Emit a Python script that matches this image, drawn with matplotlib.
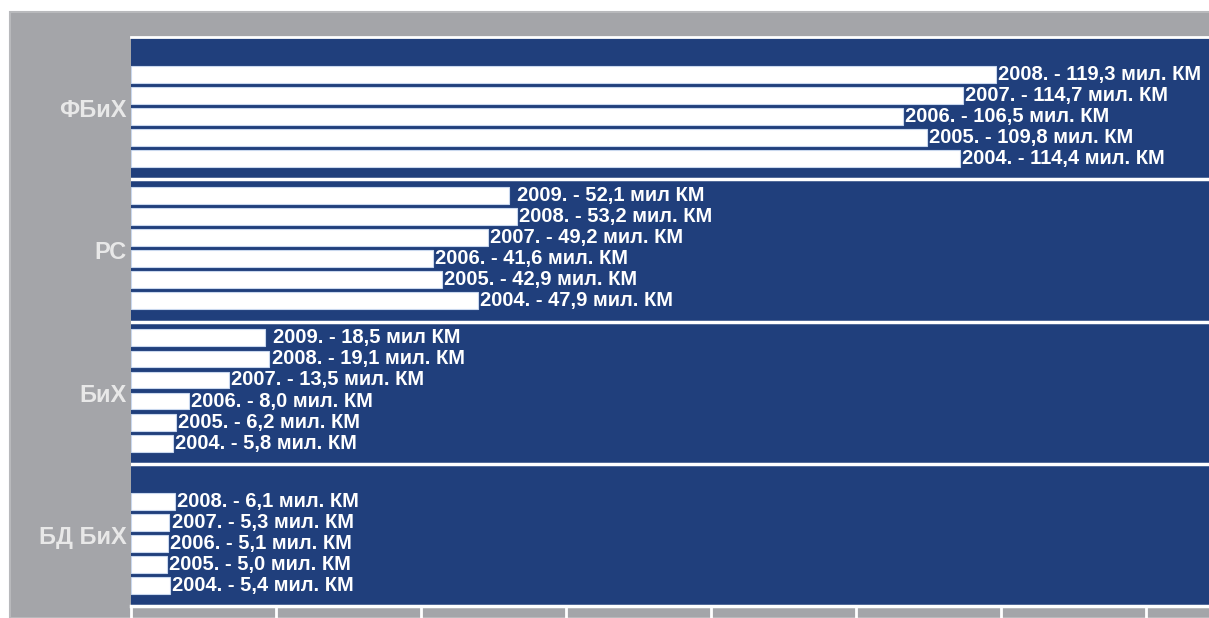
import matplotlib.pyplot as plt
from matplotlib.patches import Rectangle

# data
groups = ["ФБиХ", "РС", "БиХ", "БД БиХ"]
years = [2009, 2008, 2007, 2006, 2005, 2004]
fbih = [None, 119.3, 114.7, 106.5, 109.8, 114.4]
rs = [52.1, 53.2, 49.2, 41.6, 42.9, 47.9]
bih = [18.5, 19.1, 13.5, 8.0, 6.2, 5.8]
bd_bih = [None, 6.1, 5.3, 5.1, 5.0, 5.4]
values = [fbih, rs, bih, bd_bih]
# labels of 2009 in the source have "мил" without a dot
unit_nodot = {(1, 2009), (2, 2009)}

navy = "#203f7c"
gray = "#a4a5a9"

fig = plt.figure(figsize=(12.09, 6.18), dpi=100)
fig.patch.set_facecolor("white")
bg = Rectangle((10 / 1209, 0), 1, 1 - 12 / 618, transform=fig.transFigure,
               facecolor=gray, edgecolor="#b8b9bc", lw=1.5, zorder=-10)
fig.add_artist(bg)

ax = fig.add_axes([131 / 1209, 12 / 618, 1 - 131 / 1209, (606 - 37) / 618])
ax.set_zorder(5)
ax.set_facecolor(navy)

G = 6.76      # slots per group
off = 0.78
h = 0.8

for gi, (name, vals) in enumerate(zip(groups, values)):
    for si, (yr, v) in enumerate(zip(years, vals)):
        if v is None:
            continue
        y = gi * G + off + si
        ax.barh(y, v, height=h, color="white", edgecolor="#c9d8ee", lw=0.8, zorder=2)
        unit = "мил КМ" if (gi, yr) in unit_nodot else "мил. КМ"
        num = f"{v:.1f}".replace(".", ",")
        pad = 6 if yr == 2009 else 1.5
        ax.annotate(f"{yr}. - {num} {unit}", (v, y), xytext=(pad, 0), textcoords="offset points",
                    va="center", ha="left", color="white", fontsize=14.5,
                    fontweight="bold", family="Liberation Sans", zorder=3)
    ax.text(-0.004, 1 - (gi + 0.5) / 4, name, transform=ax.transAxes, ha="right",
            va="center_baseline", color="#e8e8e8", fontsize=17, fontweight="bold",
            family="Liberation Sans")
    if gi > 0:
        ax.axhline(gi * G, color="white", lw=2.5, zorder=1)

ax.set_xlim(0, 1078 / 7.25)
ax.set_ylim(4 * G, 0)
ax.set_xticks(range(0, 160, 20))
ax.set_xticklabels([])
ax.set_yticks([])
ax.tick_params(axis="x", length=9, width=2, color="white", direction="out")
for s in ["left", "right"]:
    ax.spines[s].set_visible(False)
ax.spines["top"].set_color("white")
ax.spines["top"].set_linewidth(2)
ax.spines["bottom"].set_color("white")
ax.spines["bottom"].set_linewidth(2.5)

fig.savefig("out.png", dpi=100)
